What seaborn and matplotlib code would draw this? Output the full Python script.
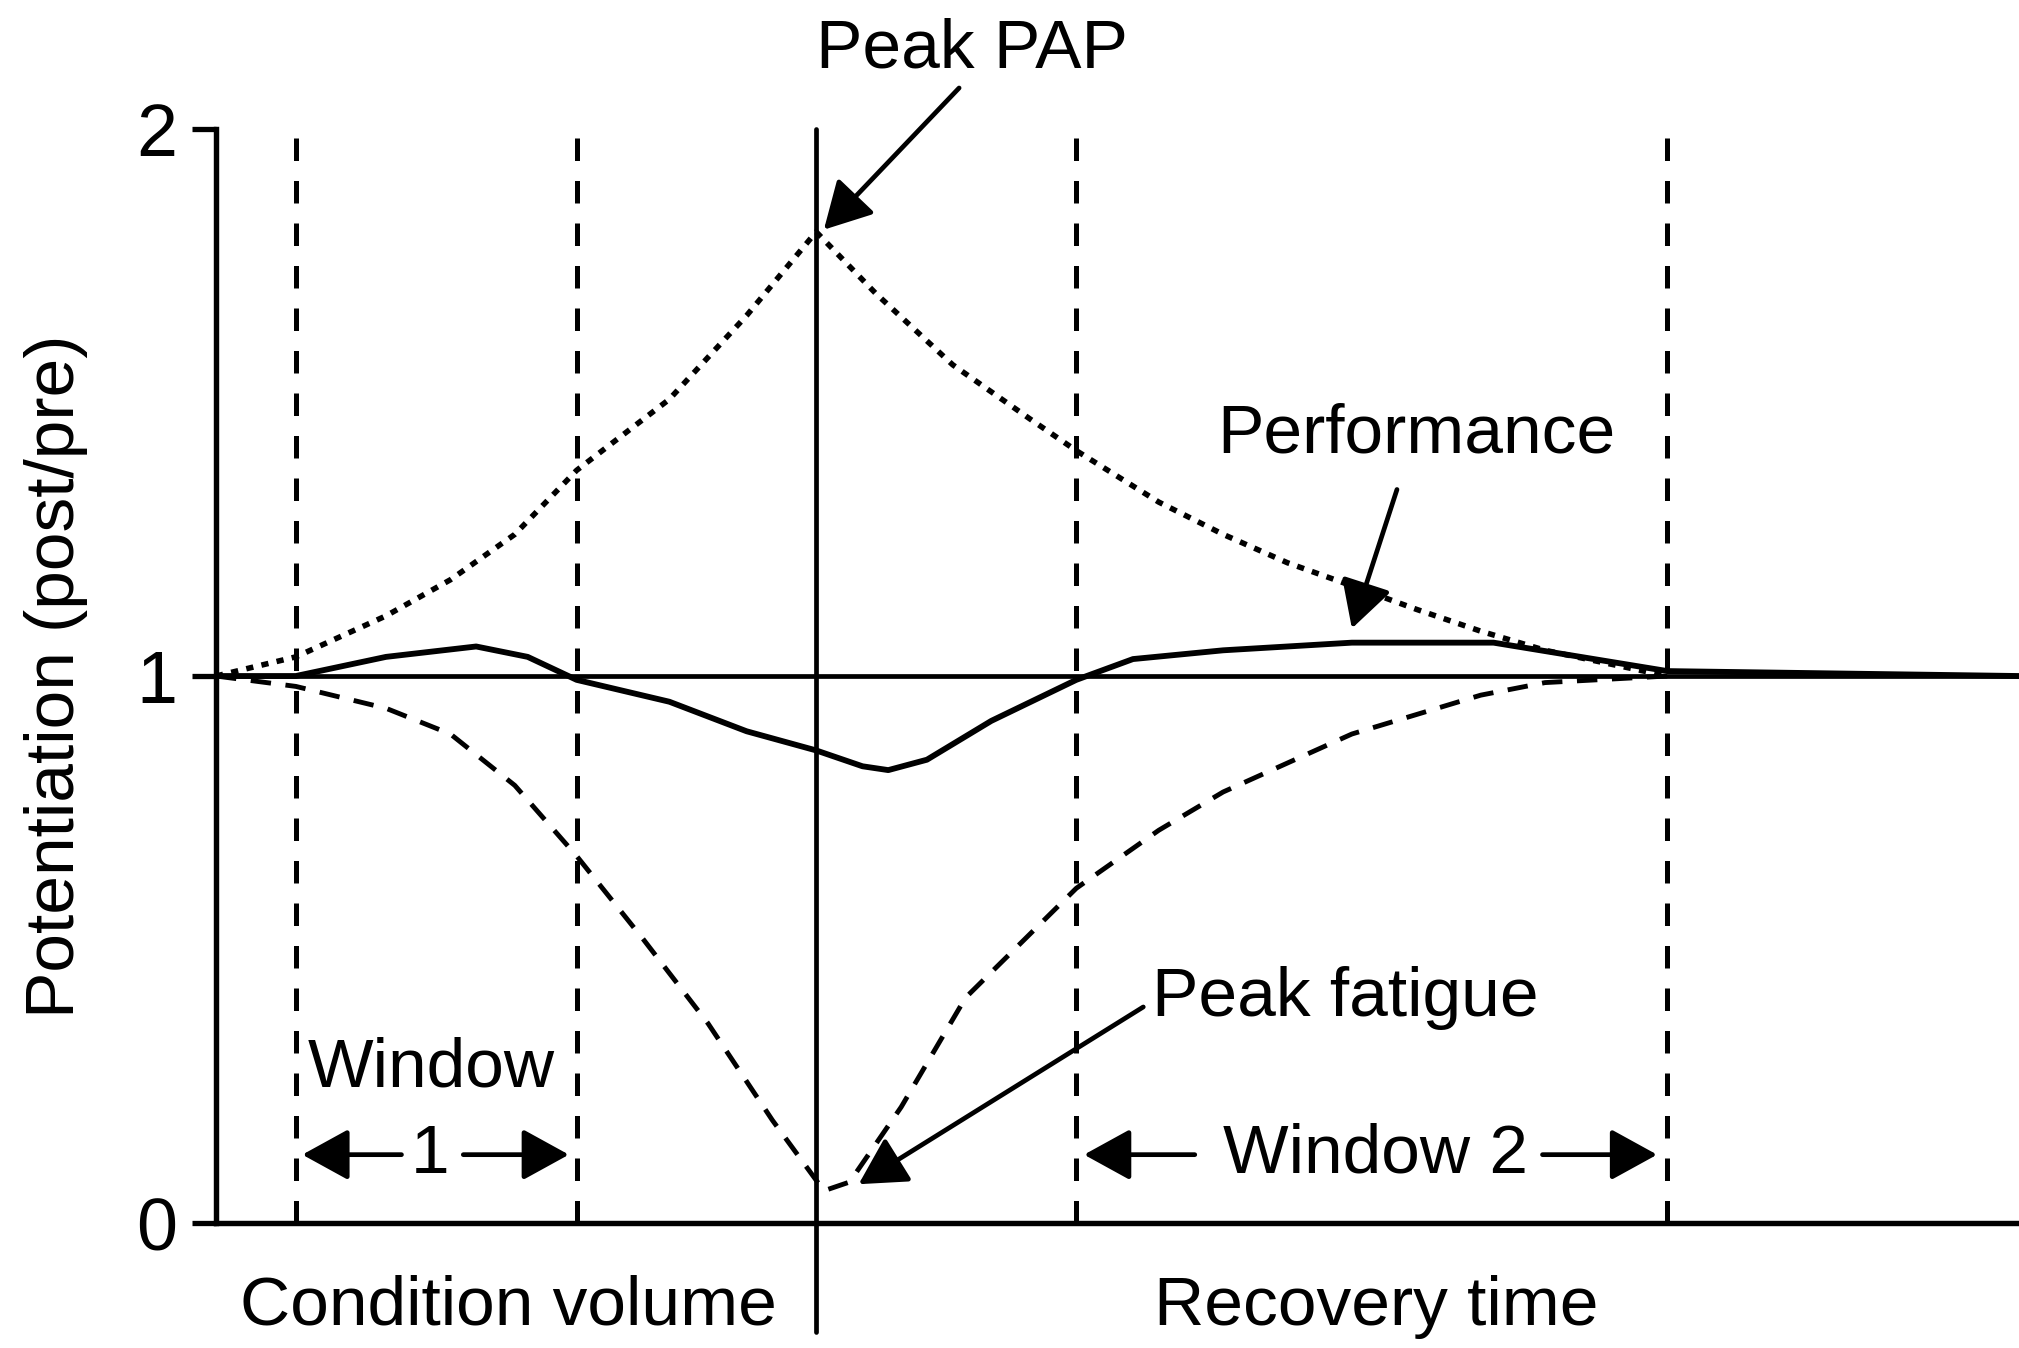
"""
Esquema PAP / fatiga / rendimiento frente a volumen y tiempo de recuperación.
"""

import matplotlib.pyplot as plt
import seaborn as sns
import pandas as pd

# datos (x en unidades arbitrarias de tiempo)
pap_x = [0, 0.62, 1.32, 1.82, 2.32, 2.8, 3.52, 4.12, 4.66, 5.12, 5.72, 6.32, 6.68,
         7.32, 7.82, 8.32, 8.82, 9.32, 9.82, 10.32, 11.27]
pap_y = [1.0, 1.035, 1.11, 1.176, 1.259, 1.376, 1.506, 1.659, 1.812, 1.70, 1.569,
         1.47, 1.412, 1.318, 1.259, 1.207, 1.165, 1.122, 1.082, 1.047, 1.0]

fat_x = [0, 0.62, 1.32, 1.82, 2.32, 2.8, 3.32, 3.82, 4.32, 4.72, 4.92, 5.32, 5.82,
         6.68, 7.32, 7.82, 8.82, 9.82, 10.32, 11.27]
fat_y = [1.0, 0.981, 0.941, 0.894, 0.8, 0.671, 0.518, 0.365, 0.188, 0.059, 0.075,
         0.212, 0.412, 0.612, 0.718, 0.788, 0.894, 0.965, 0.988, 1.0]

perf_x = [0, 0.62, 1.32, 2.02, 2.42, 2.8, 3.52, 4.12, 4.66, 5.02, 5.22, 5.52, 6.02,
          6.68, 7.12, 7.82, 8.82, 9.92, 11.27, 14.0]
perf_y = [1.0, 1.0, 1.035, 1.054, 1.035, 0.993, 0.953, 0.899, 0.864, 0.835, 0.828,
          0.847, 0.918, 0.993, 1.031, 1.047, 1.061, 1.061, 1.009, 1.0]

window_lines = [0.62, 2.8, 6.68, 11.27]
peak_x = 4.66
x_max = 14.0
y_ticks = [0, 1, 2]

FONT = "Liberation Sans"
FS = 50


def main():
    sns.set_style("white")
    plt.rcParams["font.family"] = [FONT, "DejaVu Sans"]
    plt.rcParams["text.color"] = "black"
    plt.rcParams["axes.labelcolor"] = "black"

    fig = plt.figure(figsize=(20.19, 13.48), dpi=100)
    ax = fig.add_axes([0.107, 0.0927, 0.893, 0.8116])

    df_pap = pd.DataFrame({"x": pap_x, "y": pap_y})
    df_fat = pd.DataFrame({"x": fat_x, "y": fat_y})
    df_perf = pd.DataFrame({"x": perf_x, "y": perf_y})

    # linea de referencia y = 1
    ax.axhline(1.0, color="black", lw=3.4, zorder=2)

    sns.lineplot(data=df_pap, x="x", y="y", ax=ax, sort=False, color="black",
                 lw=4.0, zorder=3).lines[-1].set_dashes((1.3, 1.5))
    sns.lineplot(data=df_fat, x="x", y="y", ax=ax, sort=False, color="black",
                 lw=3.5, zorder=3).lines[-1].set_dashes((4.2, 3.0))
    sns.lineplot(data=df_perf, x="x", y="y", ax=ax, sort=False, color="black",
                 lw=4.2, zorder=4)

    # limites de las ventanas
    for xv in window_lines:
        ax.plot([xv, xv], [0, 2], color="black", lw=3.6, dashes=(4.5, 4), zorder=1)
    # linea del pico
    ax.plot([peak_x, peak_x], [-0.2, 2], color="black", lw=3.4, clip_on=False, zorder=2)

    ax.set_xlim(0, x_max)
    ax.set_ylim(0, 2)
    ax.set_xticks([])
    ax.set_yticks(y_ticks)
    ax.set_yticklabels([str(t) for t in y_ticks], fontsize=53)
    ax.tick_params(axis="y", direction="out", length=17, width=3.8, pad=11, left=True,
                   colors="black")
    ax.set_xlabel("")
    ax.set_ylabel("Potentiation (post/pre)", fontsize=FS)
    ax.yaxis.set_label_coords(-0.071, 0.5)

    for side in ["top", "right"]:
        ax.spines[side].set_visible(False)
    for side in ["left", "bottom"]:
        ax.spines[side].set_color("black")
        ax.spines[side].set_linewidth(3.9)

    head = dict(arrowstyle="-|>,head_length=0.4,head_width=0.22", color="black",
                lw=3.4, mutation_scale=72, shrinkA=0, shrinkB=0)

    ax.text(5.87, 2.146, "Peak PAP", fontsize=FS, ha="center", va="center")
    ax.annotate("", xy=(4.72, 1.816), xytext=(5.77, 2.075), arrowprops=head,
                annotation_clip=False)

    ax.text(9.32, 1.442, "Performance", fontsize=FS, ha="center", va="center")
    ax.annotate("", xy=(8.82, 1.087), xytext=(9.17, 1.341), arrowprops=head)

    ax.text(7.27, 0.412, "Peak fatigue", fontsize=FS, ha="left", va="center")
    ax.annotate("", xy=(4.99, 0.071), xytext=(7.2, 0.395), arrowprops=head)

    ax.text(1.67, 0.282, "Window", fontsize=FS, ha="center", va="center")
    ax.text(1.66, 0.125, "1", fontsize=FS, ha="center", va="center")
    ax.annotate("", xy=(0.67, 0.125), xytext=(1.44, 0.125), arrowprops=head)
    ax.annotate("", xy=(2.74, 0.125), xytext=(1.92, 0.125), arrowprops=head)

    ax.text(9.0, 0.125, "Window 2", fontsize=FS, ha="center", va="center")
    ax.annotate("", xy=(6.74, 0.125), xytext=(7.6, 0.125), arrowprops=head)
    ax.annotate("", xy=(11.19, 0.125), xytext=(10.3, 0.125), arrowprops=head)

    ax.text(2.27, -0.153, "Condition volume", fontsize=FS, ha="center", va="center")
    ax.text(9.01, -0.153, "Recovery time", fontsize=FS, ha="center", va="center")

    fig.savefig("out.png", dpi=100)
    plt.close(fig)


if __name__ == "__main__":
    main()
